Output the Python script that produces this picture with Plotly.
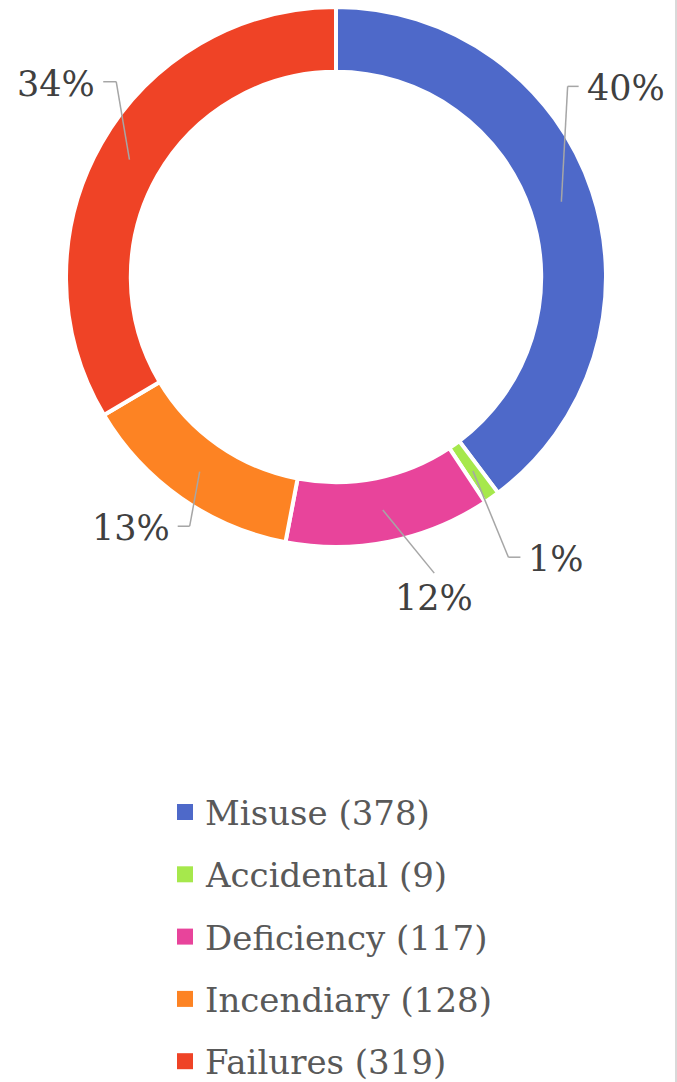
import math
import plotly.graph_objects as go

# ---- data ----
categories = ["Misuse", "Accidental", "Deficiency", "Incendiary", "Failures"]
counts = [378, 9, 117, 128, 319]
colors = ["#4E69C9", "#A6E84C", "#E8449B", "#FD8323", "#EF4326"]

# ---- layout constants (pixels) ----
W, H = 677, 1082
CX, CY = 336, 277          # donut centre
R_OUT = 270                 # outer radius incl. stroke
HOLE = 0.76
FONT = "DejaVu Serif"
# label elbow placement: (angle shift from slice mid-angle in deg, radius px, horizontal tail px)
label_place = [(-21, 300, 11), (3.6, 329, 12), (-7, 312, 0), (-4.6, 289, -12), (12, 294, -13)]


def px(x):
    return x / W


def py(y):
    return 1 - y / H


fig = go.Figure()
fig.add_trace(go.Pie(
    labels=[f"{c} ({n})" for c, n in zip(categories, counts)],
    values=counts,
    sort=False,
    direction="clockwise",
    rotation=0,
    hole=HOLE,
    marker=dict(colors=colors, line=dict(color="white", width=4)),
    textinfo="none",
    hoverinfo="label+percent",
    showlegend=False,
    domain=dict(x=[px(CX - R_OUT), px(CX + R_OUT)], y=[py(CY + R_OUT), py(CY - R_OUT)]),
))

total = sum(counts)
shapes = []
annotations = []
cum = 0
r_mid = (R_OUT + R_OUT * HOLE) / 2
for i, n in enumerate(counts):
    mid = (cum + n / 2) / total * 360
    cum += n
    pct = f"{round(n / total * 100)}%"
    a0 = math.radians(mid)
    sx, sy = CX + r_mid * math.sin(a0), CY - r_mid * math.cos(a0)
    shift, rr, tail = label_place[i]
    a1 = math.radians(mid + shift)
    ex, ey = CX + rr * math.sin(a1), CY - rr * math.cos(a1)
    line = dict(color="#A6A6A6", width=1.5)
    shapes.append(dict(type="line", xref="paper", yref="paper",
                       x0=px(sx), y0=py(sy), x1=px(ex), y1=py(ey), line=line))
    if tail != 0:
        tx = ex + tail
        shapes.append(dict(type="line", xref="paper", yref="paper",
                           x0=px(ex), y0=py(ey), x1=px(tx), y1=py(ey), line=line))
        annotations.append(dict(x=px(tx + (6 if tail > 0 else -6)), y=py(ey + 2), xref="paper", yref="paper",
                                text=pct, showarrow=False,
                                xanchor="left" if tail > 0 else "right", yanchor="middle",
                                font=dict(family=FONT, size=35, color="#404040")))
    else:
        annotations.append(dict(x=px(ex), y=py(ey + 3), xref="paper", yref="paper",
                                text=pct, showarrow=False, xanchor="center", yanchor="top",
                                font=dict(family=FONT, size=35, color="#404040")))

# ---- manual legend ----
LEG_X, LEG_Y0, LEG_DY, SQ = 177, 812, 62.3, 16
for i, (c, n) in enumerate(zip(categories, counts)):
    yc = LEG_Y0 + i * LEG_DY
    shapes.append(dict(type="rect", xref="paper", yref="paper",
                       x0=px(LEG_X), x1=px(LEG_X + SQ), y0=py(yc + SQ / 2), y1=py(yc - SQ / 2),
                       fillcolor=colors[i], line=dict(width=0)))
    annotations.append(dict(x=px(LEG_X + SQ + 10), y=py(yc + 1), xref="paper", yref="paper",
                            text=f"{c} ({n})", showarrow=False, xanchor="left", yanchor="middle",
                            font=dict(family=FONT, size=34, color="#595959")))

# right border
shapes.append(dict(type="line", xref="paper", yref="paper", x0=px(676), x1=px(676), y0=0, y1=1,
                   line=dict(color="#D9D9D9", width=2)))

fig.update_layout(
    width=W, height=H,
    margin=dict(l=0, r=0, t=0, b=0),
    paper_bgcolor="white", plot_bgcolor="white",
    shapes=shapes, annotations=annotations,
    showlegend=False,
)

fig.write_html("out.html")
